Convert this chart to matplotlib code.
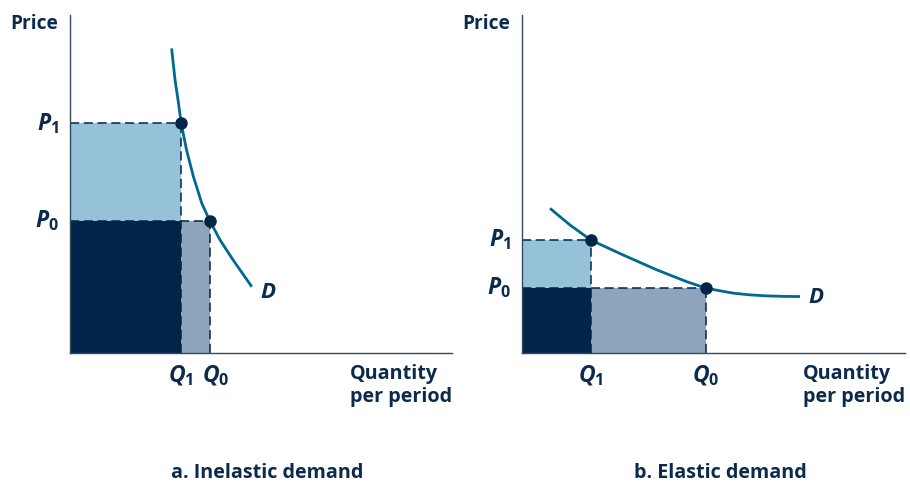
import matplotlib
matplotlib.use("Agg")
import matplotlib.pyplot as plt
from matplotlib.patches import Rectangle

plt.rcParams['font.family'] = ['Open Sans', 'DejaVu Sans']
plt.rcParams['font.weight'] = 'bold'
plt.rcParams['mathtext.fontset'] = 'custom'
plt.rcParams['mathtext.it'] = 'Open Sans:bold:italic'
plt.rcParams['mathtext.rm'] = 'Open Sans:bold'

# panel a: inelastic demand (axes run 0..100 both ways)
a_q1, a_q0 = 29.1, 36.6
a_p1, a_p0 = 68.0, 39.1
a_curve_q = [26.6, 27.5, 28.4, 29.1, 30.5, 32.3, 34.5, 36.6, 39.3, 42.7, 47.6]
a_curve_p = [90.1, 80.8, 73.9, 68.0, 60.1, 52.2, 44.3, 39.1, 33.4, 27.5, 19.6]

# panel b: elastic demand
b_q1, b_q0 = 18.0, 48.0
b_p1, b_p0 = 33.4, 19.2
b_curve_q = [7.3, 12.5, 18.0, 26.4, 35.2, 43.0, 48.0, 51.7, 55.2, 59.5, 63.9, 68.3, 72.6]
b_curve_p = [42.8, 37.9, 33.4, 29.0, 24.6, 21.1, 19.2, 18.4, 17.7, 17.2, 16.9, 16.75, 16.7]

titles = ['a. Inelastic demand', 'b. Elastic demand']

navy = '#012549'
light = '#96c2d9'
grey = '#8ea4bd'
curve_col = '#00698f'
txt = '#0c2a4c'

fig = plt.figure(figsize=(9.1, 4.83), dpi=100)
ax_a = fig.add_axes([70 / 910, 130 / 483, 382 / 910, 338 / 483])
ax_b = fig.add_axes([522 / 910, 130 / 483, 383 / 910, 338 / 483])


def panel(ax, q1, q0, p1, p0, cq, cp, q0_shift, d_pos):
    ax.set_xlim(0, 100)
    ax.set_ylim(0, 100)
    for s in ['top', 'right']:
        ax.spines[s].set_visible(False)
    for s in ['left', 'bottom']:
        ax.spines[s].set_color('#33475f')
        ax.spines[s].set_linewidth(1.0)
    ax.set_xticks([])
    ax.set_yticks([])

    ax.add_patch(Rectangle((0, p0), q1, p1 - p0, color=light, lw=0))
    ax.add_patch(Rectangle((0, 0), q1, p0, color=navy, lw=0))
    ax.add_patch(Rectangle((q1, 0), q0 - q1, p0, color=grey, lw=0))

    dash = dict(color=navy, lw=1.1, ls=(0, (6, 3)))
    ax.plot([0, q1], [p1, p1], **dash)
    ax.plot([q1, q1], [0, p1], **dash)
    ax.plot([0, q0], [p0, p0], **dash)
    ax.plot([q0, q0], [0, p0], **dash)

    ax.plot(cq, cp, color=curve_col, lw=2.0, solid_capstyle='butt',
            solid_joinstyle='round')
    ax.plot([q1, q0], [p1, p0], 'o', color=navy, ms=8, clip_on=False, zorder=5)

    ax.text(-3, p1, r'$P_1$', ha='right', va='center', fontsize=16.5, color=txt)
    ax.text(-3, p0, r'$P_0$', ha='right', va='center', fontsize=16.5, color=txt)
    ax.text(q1, -6.8, r'$Q_1$', ha='center', va='center', fontsize=16.5, color=txt)
    ax.text(q0 + q0_shift, -6.8, r'$Q_0$', ha='center', va='center', fontsize=16.5, color=txt)
    ax.text(d_pos[0], d_pos[1], r'$D$', ha='left', va='center', fontsize=16, color=txt)
    ax.text(-15.7, 97.4, 'Price', ha='left', va='center', fontsize=13.8, color=txt)
    ax.text(73.3, -3.3, 'Quantity\nper period', ha='left', va='top', fontsize=14.2,
            color=txt, linespacing=1.18)


panel(ax_a, a_q1, a_q0, a_p1, a_p0, a_curve_q, a_curve_p, 1.6, (49.7, 18.0))
panel(ax_b, b_q1, b_q0, b_p1, b_p0, b_curve_q, b_curve_p, 0.0, (74.7, 16.3))

fig.text(267 / 910, 1 - 473 / 483, titles[0], ha='center', va='center', fontsize=14.2, color=txt)
fig.text(720 / 910, 1 - 473 / 483, titles[1], ha='center', va='center', fontsize=14.2, color=txt)

fig.savefig('out.png', dpi=100, facecolor='white')
